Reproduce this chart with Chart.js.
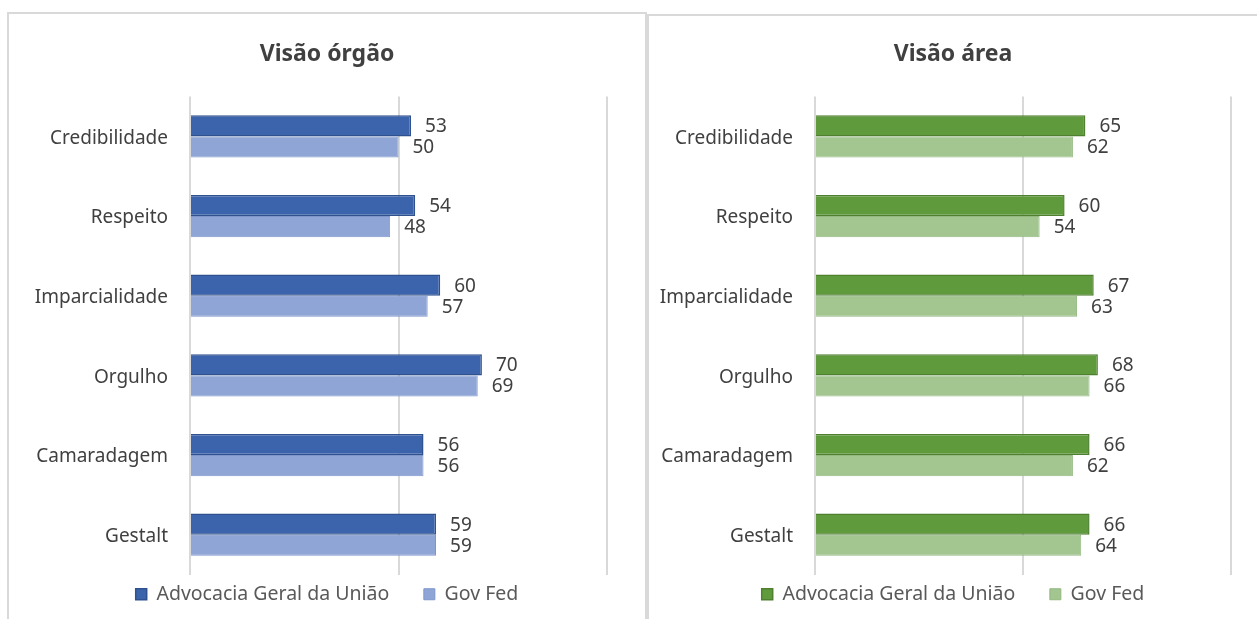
<!DOCTYPE html>
<html>
<head>
<meta charset="utf-8">
<script src="https://cdn.jsdelivr.net/npm/chart.js@4/dist/chart.umd.min.js"></script>
<style>
  body { margin: 0; background: #fff; width: 1257px; height: 619px; overflow: hidden; position: relative; }
  .panel { position: absolute; border: 2px solid #d9d9d9; box-sizing: border-box; background: #fff; }
  #p1 { left: 7px; top: 12px; width: 640px; height: 640px; }
  #p2 { left: 647px; top: 14px; width: 620px; height: 640px; }
  canvas { position: absolute; left: 0; top: 0; }
</style>
</head>
<body>
<div class="panel" id="p1"><canvas id="chart1"></canvas></div>
<div class="panel" id="p2"><canvas id="chart2"></canvas></div>
<script>
var categories = ["Credibilidade", "Respeito", "Imparcialidade", "Orgulho", "Camaradagem", "Gestalt"];
var seriesNames = ["Advocacia Geral da União", "Gov Fed"];
var orgaoAgu = [53, 54, 60, 70, 56, 59];
var orgaoGov = [50, 48, 57, 69, 56, 59];
var areaAgu = [65, 60, 67, 68, 66, 66];
var areaGov = [62, 54, 63, 66, 62, 64];

var FONT = "'Noto Sans', 'Open Sans', sans-serif";

var valueLabels = {
  id: 'valueLabels',
  afterDatasetsDraw: function(chart) {
    var ctx = chart.ctx;
    ctx.save();
    ctx.font = "19px " + FONT;
    ctx.fillStyle = "#404040";
    ctx.textAlign = "left";
    ctx.textBaseline = "middle";
    chart.data.datasets.forEach(function(ds, i) {
      chart.getDatasetMeta(i).data.forEach(function(bar, j) {
        ctx.fillText(ds.data[j], bar.x + 14, bar.y + 1);
      });
    });
    ctx.restore();
  }
};

// title and legend centred on the whole panel, not on the padded area
var centreBlocks = {
  id: 'centreBlocks',
  afterLayout: function(chart) {
    [chart.titleBlock, chart.legend].forEach(function(b) {
      if (b) { b.left = 0; b.right = chart.width; b.width = chart.width; }
    });
  }
};

function makeChart(id, w, h, title, agu, gov, colors, yWidth, padRight, titlePad) {
  var cv = document.getElementById(id);
  cv.width = w; cv.height = h;
  cv.style.width = w + "px"; cv.style.height = h + "px";
  return new Chart(cv, {
    type: 'bar',
    data: {
      labels: categories,
      datasets: [
        { label: seriesNames[0], data: agu, backgroundColor: colors[0], borderColor: colors[1], borderWidth: 1.5 },
        { label: seriesNames[1], data: gov, backgroundColor: colors[2], borderColor: colors[3], borderWidth: 1 }
      ]
    },
    options: {
      indexAxis: 'y',
      responsive: false,
      animation: false,
      devicePixelRatio: 1,
      categoryPercentage: 0.53,
      barPercentage: 1,
      layout: { padding: { left: 0, right: padRight, top: 0, bottom: 7 } },
      scales: {
        x: {
          min: 0, max: 100,
          ticks: { display: false, stepSize: 50 },
          grid: { color: "#d9d9d9", lineWidth: 2, drawTicks: false },
          border: { display: false },
          afterFit: function(s) { s.height = 0; }
        },
        y: {
          ticks: { color: "#404040", font: { family: FONT, size: 19 }, padding: 22, labelOffset: 2 },
          grid: { display: false, drawTicks: false },
          border: { display: false },
          afterFit: function(s) { s.width = yWidth; }
        }
      },
      plugins: {
        title: {
          display: true, text: title, color: "#404040",
          font: { family: FONT, size: 23, weight: 'bold' },
          padding: titlePad
        },
        legend: {
          position: 'bottom',
          labels: {
            color: "#595959", font: { family: FONT, size: 19.5 },
            boxWidth: 11, boxHeight: 11, padding: 10,
            generateLabels: function(chart) {
              var items = Chart.defaults.plugins.legend.labels.generateLabels(chart);
              // wider gap between the two entries, like the original
              items[0].text = items[0].text + "\u2003 ";
              return items;
            }
          }
        },
        tooltip: { enabled: false }
      }
    },
    plugins: [valueLabels, centreBlocks]
  });
}

makeChart('chart1', 636, 607, "Visão órgão", orgaoAgu, orgaoGov,
  ["#3B64AD", "#2F528F", "#8FA5D6", "#7E96CC"], 181, 38, { top: 27, bottom: 28 });
makeChart('chart2', 608, 605, "Visão área", areaAgu, areaGov,
  ["#5F9B3C", "#4E8030", "#A3C590", "#93B880"], 166, 26, { top: 25, bottom: 28 });
</script>
</body>
</html>
